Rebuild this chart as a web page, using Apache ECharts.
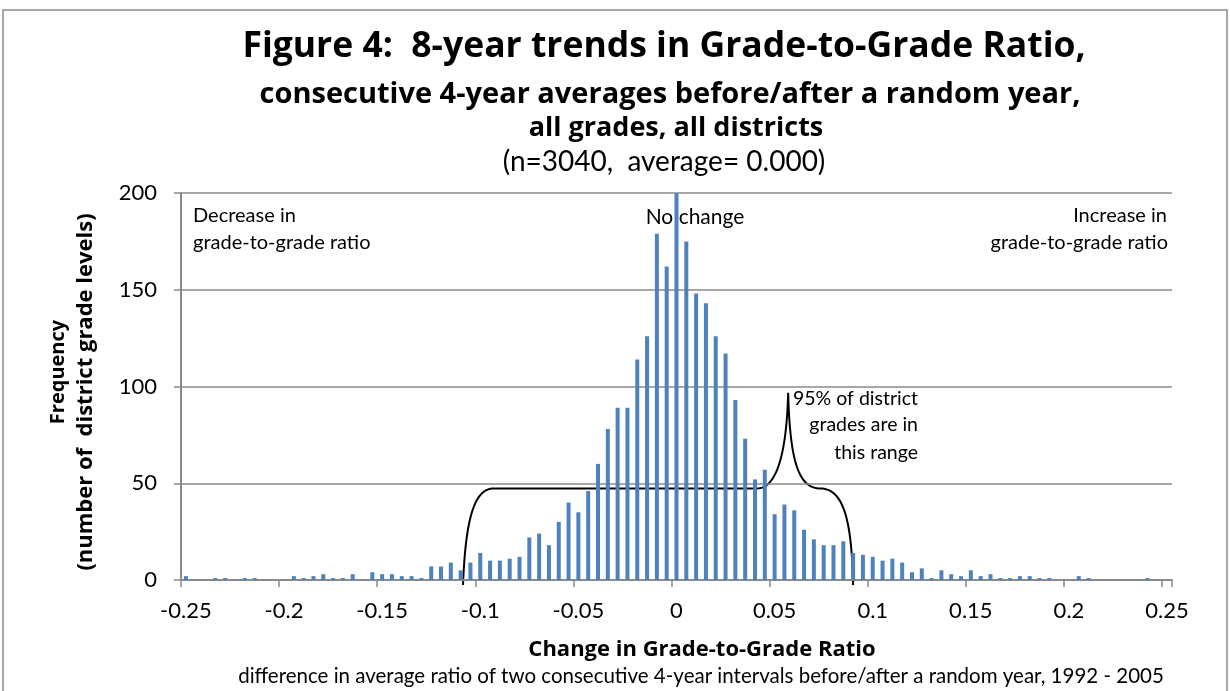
<!DOCTYPE html>
<html>
<head>
<meta charset="utf-8">
<script src="https://cdn.jsdelivr.net/npm/echarts@6/dist/echarts.min.js"></script>
<style>
    html, body { margin: 0; padding: 0; background: #fff; }
    #chart { width: 1230px; height: 691px; }
</style>
</head>
<body>
<div id="chart"></div>
<script>
    // histogram bins (change in grade-to-grade ratio), step 0.005
    var bins = [
        -0.25, -0.245, -0.24, -0.235, -0.23, -0.225, -0.22, -0.215, -0.21, -0.205,
        -0.2, -0.195, -0.19, -0.185, -0.18, -0.175, -0.17, -0.165, -0.16, -0.155,
        -0.15, -0.145, -0.14, -0.135, -0.13, -0.125, -0.12, -0.115, -0.11, -0.105,
        -0.1, -0.095, -0.09, -0.085, -0.08, -0.075, -0.07, -0.065, -0.06, -0.055,
        -0.05, -0.045, -0.04, -0.035, -0.03, -0.025, -0.02, -0.015, -0.01, -0.005,
        0,
        0.005, 0.01, 0.015, 0.02, 0.025, 0.03, 0.035, 0.04, 0.045, 0.05,
        0.055, 0.06, 0.065, 0.07, 0.075, 0.08, 0.085, 0.09, 0.095, 0.1,
        0.105, 0.11, 0.115, 0.12, 0.125, 0.13, 0.135, 0.14, 0.145, 0.15,
        0.155, 0.16, 0.165, 0.17, 0.175, 0.18, 0.185, 0.19, 0.195, 0.2,
        0.205, 0.21, 0.215, 0.22, 0.225, 0.23, 0.235, 0.24, 0.245, 0.25
    ];
    var counts = [
        2, 0, 0, 1, 1, 0, 1, 1, 0, 0,
        0, 2, 1, 2, 3, 1, 1, 3, 0, 4,
        3, 3, 2, 2, 1, 7, 7, 9, 5, 9,
        14, 10, 10, 11, 12, 22, 24, 18, 30, 40,
        35, 46, 60, 78, 89, 89, 114, 126, 179, 162,
        200,
        175, 148, 143, 126, 117, 93, 73, 52, 57, 34,
        39, 36, 26, 21, 18, 18, 20, 14, 13, 12,
        10, 11, 9, 4, 6, 1, 5, 3, 2, 5,
        2, 3, 1, 1, 2, 2, 1, 1, 0, 0,
        2, 1, 0, 0, 0, 0, 0, 1, 0, 0
    ];
    var yMin = 0, yMax = 200, yStep = 50;

    // "95%" brace, in data units [ratio, frequency]
    var braceStart = [-0.1088, -2.6];
    var braceCurves = [
        [[-0.1076, 28], [-0.1040, 47.3], [-0.0932, 47.3]],
        [[-0.0932, 47.3], [0.0411, 47.3], [0.0411, 47.3]],
        [[0.0500, 47.3], [0.0560, 62], [0.0569, 96.7]],
        [[0.0578, 62], [0.0620, 47.3], [0.0733, 47.3]],
        [[0.0860, 47.3], [0.0893, 28], [0.0900, -2.6]]
    ];

    var font = 'Lato';
    var boldFont = 'Open Sans';
    var blue = '#4F81BD';
    var gridGray = '#8a8a8a';

    var myChart = echarts.init(document.getElementById('chart'));

    function txt(text, x, y, size, weight, align, family) {
        return {
            type: 'text', x: x, y: y, silent: true,
            style: {
                text: text, fill: '#000',
                fontFamily: family || font, fontSize: size, fontWeight: weight,
                textAlign: align || 'center', textVerticalAlign: 'middle'
            }
        };
    }

    var texts = [
        txt('Figure 4:  8-year trends in Grade-to-Grade Ratio,', 664, 47, 35.5, 'bold', 'center', boldFont),
        txt('consecutive 4-year averages before/after a random year,', 670, 95, 29, 'bold', 'center', boldFont),
        txt('all grades, all districts', 676, 128, 27, 'bold', 'center', boldFont),
        txt('(n=3040,  average= 0.000)', 664, 162, 28, 'normal'),
        txt('Change in Grade-to-Grade Ratio', 702, 650, 22, 'bold', 'center', boldFont),
        txt('difference in average ratio of two consecutive 4-year intervals before/after a random year, 1992 - 2005', 701, 676, 20.5, 'normal'),
        txt('Decrease in', 193, 216, 20, 'normal', 'left'),
        txt('grade-to-grade ratio', 193, 243, 20, 'normal', 'left'),
        txt('No change', 695, 217, 21, 'normal'),
        txt('Increase in', 1167, 216, 20, 'normal', 'right'),
        txt('grade-to-grade ratio', 1168, 243, 20, 'normal', 'right'),
        txt('95% of district', 918, 399, 19.5, 'normal', 'right'),
        txt('grades are in', 918, 425, 19.5, 'normal', 'right'),
        txt('this range', 918, 453, 19.5, 'normal', 'right'),
        {
            type: 'text', x: 58, y: 372, rotation: Math.PI / 2, silent: true,
            style: { text: 'Frequency', fill: '#000', fontFamily: boldFont, fontSize: 20, fontWeight: 'bold', textAlign: 'center', textVerticalAlign: 'middle' }
        },
        {
            type: 'text', x: 86, y: 392, rotation: Math.PI / 2, silent: true,
            style: { text: '(number of  district grade levels)', fill: '#000', fontFamily: boldFont, fontSize: 22, fontWeight: 'bold', textAlign: 'center', textVerticalAlign: 'middle' }
        },
        {
            type: 'rect', silent: true,
            shape: { x: 3, y: 10, width: 1224, height: 700 },
            style: { fill: 'none', stroke: '#8c8c8c', lineWidth: 1.5 }
        }
    ];

    var option = {
        backgroundColor: '#fff',
        animation: false,
        grid: { left: 181, right: 58, top: 193, bottom: 111 },
        xAxis: {
            type: 'category',
            data: bins,
            boundaryGap: true,
            axisLine: { lineStyle: { color: gridGray, width: 2 } },
            axisTick: { show: true, interval: 9, length: 7, lineStyle: { color: gridGray, width: 1.5 } },
            axisLabel: {
                interval: 9, margin: 20, color: '#000', fontFamily: font, fontSize: 22,
                formatter: function (v) { return String(Number(v)); }
            }
        },
        yAxis: {
            type: 'value',
            min: yMin, max: yMax, interval: yStep,
            axisLine: { show: true, lineStyle: { color: gridGray, width: 2 } },
            axisTick: { show: true, length: 7, lineStyle: { color: gridGray, width: 1.5 } },
            axisLabel: { margin: 24, color: '#000', fontFamily: font, fontSize: 22 },
            splitLine: { lineStyle: { color: gridGray, width: 1.5 } }
        },
        series: [{
            type: 'bar',
            data: counts,
            barWidth: 4,
            itemStyle: { color: blue }
        }],
        graphic: texts
    };
    myChart.setOption(option);

    // draw the brace through the axes
    var p0 = myChart.convertToPixel({ xAxisIndex: 0 }, 0);
    var p1 = myChart.convertToPixel({ xAxisIndex: 0 }, 1);
    function toPx(pt) {
        var x = p0 + (pt[0] - bins[0]) / (bins[1] - bins[0]) * (p1 - p0);
        var y = myChart.convertToPixel({ yAxisIndex: 0 }, pt[1]);
        return [x, y];
    }
    var pts = [];
    var cur = toPx(braceStart);
    braceCurves.forEach(function (c) {
        var a = toPx(c[0]), b = toPx(c[1]), e = toPx(c[2]);
        for (var i = 0; i <= 30; i++) {
            var t = i / 30, u = 1 - t;
            pts.push([
                u * u * u * cur[0] + 3 * u * u * t * a[0] + 3 * u * t * t * b[0] + t * t * t * e[0],
                u * u * u * cur[1] + 3 * u * u * t * a[1] + 3 * u * t * t * b[1] + t * t * t * e[1]
            ]);
        }
        cur = e;
    });
    texts.push({
        type: 'polyline', silent: true,
        shape: { points: pts },
        style: { stroke: '#000', lineWidth: 2, fill: 'none' }
    });
    myChart.setOption({ graphic: texts });
</script>
</body>
</html>
